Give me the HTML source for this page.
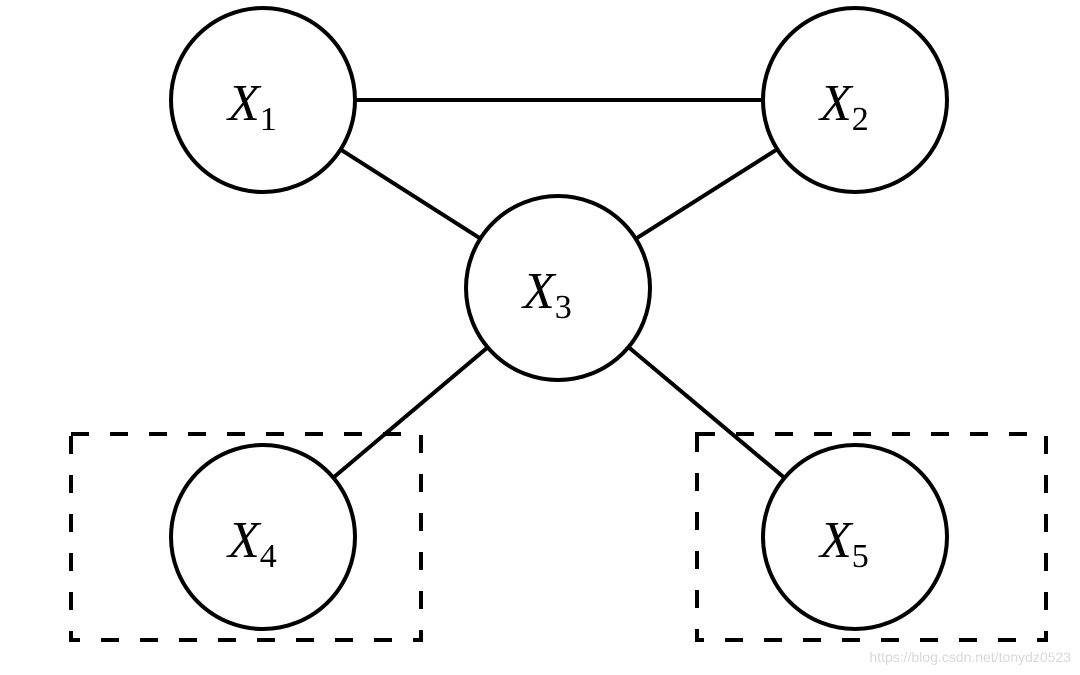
<!DOCTYPE html>
<html><head><style>body{margin:0;background:#fff}svg{display:block}</style></head><body>
<svg width="1080" height="675" viewBox="0 0 1080 675" xmlns="http://www.w3.org/2000/svg">
<g stroke="#000" stroke-width="4" fill="none">
<line x1="263" y1="100" x2="855" y2="100"/>
<line x1="263" y1="100" x2="558" y2="288"/>
<line x1="855" y1="100" x2="558" y2="288"/>
<line x1="558" y1="288" x2="263" y2="537"/>
<line x1="558" y1="288" x2="855" y2="537"/>
<rect x="71" y="434" width="350" height="206" stroke-dasharray="18 21"/>
<rect x="697" y="434" width="349" height="206" stroke-dasharray="18 21"/>
</g>
<g stroke="#000" stroke-width="4" fill="#fff">
<circle cx="263" cy="100" r="92"/>
<circle cx="855" cy="100" r="92"/>
<circle cx="558" cy="288" r="92"/>
<circle cx="263" cy="537" r="92"/>
<circle cx="855" cy="537" r="92"/>
</g>
<g font-family="Liberation Serif, serif" fill="#000">
<text x="228" y="120" font-size="52" font-style="italic">X<tspan font-style="normal" font-size="34" dy="10">1</tspan></text>
<text x="820" y="120" font-size="52" font-style="italic">X<tspan font-style="normal" font-size="34" dy="10">2</tspan></text>
<text x="523" y="308" font-size="52" font-style="italic">X<tspan font-style="normal" font-size="34" dy="10">3</tspan></text>
<text x="228" y="557" font-size="52" font-style="italic">X<tspan font-style="normal" font-size="34" dy="10">4</tspan></text>
<text x="820" y="557" font-size="52" font-style="italic">X<tspan font-style="normal" font-size="34" dy="10">5</tspan></text>
</g>
<text x="1071" y="662" text-anchor="end" font-family="Liberation Sans, sans-serif" font-size="14" fill="#d8d8d8">https://blog.csdn.net/tonydz0523</text>
</svg>
</body></html>
